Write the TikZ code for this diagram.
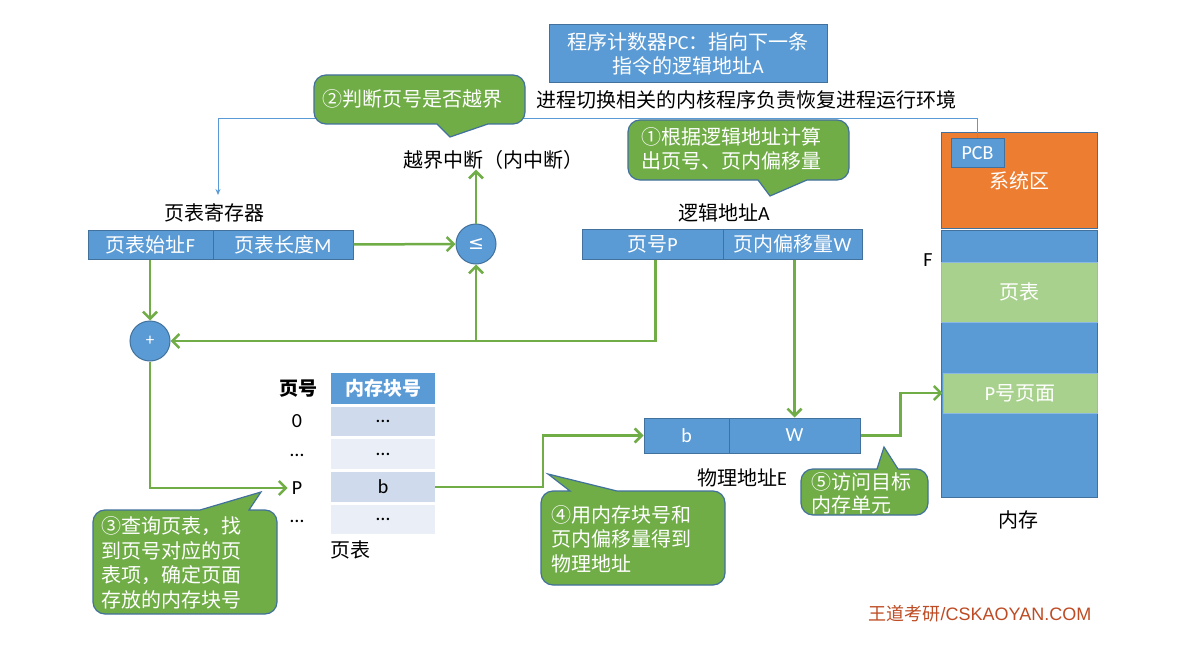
\documentclass[tikz,border=0pt]{standalone}
\usepackage{fontspec}
\setmainfont{Noto Sans CJK SC}
\newfontfamily\lat{Carlito}
\newfontfamily\dvs{DejaVu Sans}
\newfontfamily\ari{Liberation Sans}
\usetikzlibrary{arrows.meta,calc}
\definecolor{pblue}{HTML}{5B9BD5}
\definecolor{pbord}{HTML}{41719C}
\definecolor{pgreen}{HTML}{70AD47}
\definecolor{lgreen}{HTML}{A9D18E}
\definecolor{porange}{HTML}{ED7D31}
\definecolor{rowa}{HTML}{CFDBEC}
\definecolor{rowb}{HTML}{E9EEF7}
\definecolor{wm}{RGB}{190,75,35}
% callout with pointer at bottom: x1 y1 x2 y2 bx1 bx2 tipx tipy
\newcommand\calloutdown[8]{%
  \draw[callout] (#5,#4) -- (#7,#8) -- (#6,#4) -- ({#3-12},#4)
    arc[start angle=90,end angle=0,radius=12] -- (#3,{#2+12})
    arc[start angle=0,end angle=-90,radius=12] -- ({#1+12},#2)
    arc[start angle=270,end angle=180,radius=12] -- (#1,{#4-12})
    arc[start angle=180,end angle=90,radius=12] -- cycle;}
% callout with pointer at top
\newcommand\calloutup[8]{%
  \draw[callout] (#6,#2) -- (#7,#8) -- (#5,#2) -- ({#1+12},#2)
    arc[start angle=270,end angle=180,radius=12] -- (#1,{#4-12})
    arc[start angle=180,end angle=90,radius=12] -- ({#3-12},#4)
    arc[start angle=90,end angle=0,radius=12] -- (#3,{#2+12})
    arc[start angle=0,end angle=-90,radius=12] -- cycle;}
\begin{document}
\begin{tikzpicture}[x=1pt,y=-1pt,
  every node/.style={inner sep=0pt, font=\fontsize{20}{24}\selectfont},
  blk/.style={draw=pbord, fill=pblue, line width=1pt, text=white, minimum height=30pt},
  garrow/.style={draw=pgreen, line width=2.5pt, -{Straight Barb[length=7pt,width=14pt]}},
  gline/.style={draw=pgreen, line width=2.5pt},
  callout/.style={fill=pgreen, draw=pbord, line width=1.2pt},
  ctext/.style={text=white, align=left, font=\fontsize{20}{24.5}\selectfont},
  circ/.style={circle, draw=pbord, fill=pblue, line width=1pt, minimum size=40pt, text=white},
  row/.style={minimum width=104pt, minimum height=29pt},
]
\useasboundingbox[fill=white] (0,0) rectangle (1197,658);

% ---- memory ----
\node[draw=pbord, fill=pblue, line width=1pt, minimum width=156pt, minimum height=267pt] (mem) at (1019,363.5) {};
\node[draw=pbord, fill=porange, line width=1pt, minimum width=156pt, minimum height=95pt, text=white] (sys) at (1019,180.5) {系统区};
\node[draw=pblue!70, fill=lgreen, line width=0.8pt, minimum width=156pt, minimum height=60pt, text=white] (mpt) at (1019,292) {页表};
\node[draw=pblue!70, fill=lgreen, line width=0.8pt, minimum width=154pt, minimum height=40pt, text=white] (ppage) at (1020,393) {{\lat P}号页面};
\node[draw=pbord, fill=pblue, line width=1pt, minimum width=53pt, minimum height=29pt, text=white, font=\lat\fontsize{20}{24}\selectfont] (pcb) at (977.5,153.5) {PCB};
\node[font=\lat\fontsize{20}{24}\selectfont] (flbl) at (928,260) {F};
\node (memlbl) at (1018,520) {内存};

% ---- thin blue line ----
\coordinate (turn) at (218,119);
\coordinate (lend) at (218,195);
\draw[pblue, line width=1pt, -{Stealth[length=6pt,width=5pt]}] (pcb.north) |- (turn) -- (lend);

% ---- PC box and text ----
\node[blk, minimum width=278pt, minimum height=58pt, align=center, font=\fontsize{20}{24}\selectfont] (pc) at (688,54) {程序计数器{\lat PC}：指向下一条\\指令的逻辑地址{\lat A}};
\node (ctx) at (746,100) {进程切换相关的内核程序负责恢复进程运行环境};
\node (yj) at (493,160) {越界中断（内中断）};

% ---- page table register ----
\node (regl) at (214,213) {页表寄存器};
\node[blk, minimum width=125pt, minimum height=29pt] (reg1) at (150.5,244.5) {页表始址{\lat F}};
\node[blk, minimum width=140pt, minimum height=29pt] (reg2) at (283,244.5) {页表长度{\lat M}};

% ---- logical address ----
\node (lal) at (724,213) {逻辑地址{\lat A}};
\node[blk, minimum width=141pt] (la1) at (652.5,244) {页号{\lat P}};
\node[blk, minimum width=139pt] (la2) at (792.5,244) {页内偏移量{\lat W}};

% ---- circles ----
\node[circ, font=\dvs\fontsize{19}{22}\selectfont] (le) at (476,244) {≤};
\node[circ, font=\lat\fontsize{17}{20}\selectfont] (plus) at (150,341) {+};

% ---- page table ----
\node[font=\bfseries\fontsize{19}{22}\selectfont] (hdr1) at (298,389) {页号};
\node[row, fill=pblue, minimum height=31pt, text=white, font=\bfseries\fontsize{19}{22}\selectfont] (hdr2) at (383,388.5) {内存块号};
\node[row, fill=rowa] (r0) at (383,421.5) {\lat …};
\node[row, fill=rowb, minimum height=30pt] (r1) at (383,454) {\lat …};
\node[row, fill=rowa, minimum height=30pt, font=\lat\fontsize{20}{24}\selectfont] (r2) at (383,487) {b};
\node[row, fill=rowb] (r3) at (383,519.5) {\lat …};
\node[font=\lat\fontsize{20}{24}\selectfont] (p0) at (297,421) {0};
\node (p1) at (297,455) {\lat …};
\node[font=\lat\fontsize{20}{24}\selectfont] (pP) at (297,488) {P};
\node (p3) at (297,521) {\lat …};
\node (ptl) at (350,550) {页表};

% ---- physical address ----
\node[blk, minimum width=85pt, minimum height=35pt, font=\lat\fontsize{20}{24}\selectfont] (pa1) at (686.5,435.5) {b};
\node[blk, minimum width=131pt, minimum height=35pt, font=\lat\fontsize{20}{24}\selectfont] (pa2) at (794.5,435.5) {W};
\node (pal) at (742,478) {物理地址{\lat E}};

% ---- green connectors ----
\draw[garrow] (reg2.east) -- (le.west);
\coordinate (jn) at (le.south |- plus.east);
\draw[gline] ([xshift=3pt]la1.south) |- (jn);
\draw[garrow] (jn) -- (plus.east);
\draw[garrow] (jn) -- (le.south);
\draw[garrow] (le.north) -- (le.north |- yj.south);
\draw[garrow] (reg1.south -| plus.north) -- (plus.north);
\draw[garrow] (plus.south) |- ([xshift=-4pt]pP.west);
\draw[garrow] (r2.east) -- ++(108,0) |- (pa1.west);
\draw[garrow] (pa2.north |- la2.south) -- (pa2.north);
\draw[garrow] (pa2.east) -- ++(40,0) |- (ppage.west);

% ---- callouts ----
\calloutdown{314}{75}{525}{124}{437}{488}{450}{137}
\node[ctext] (t2) at (412,99) {②判断页号是否越界};
\calloutdown{628}{120}{849}{180}{758}{807}{770}{196}
\node[ctext] (t1) at (731,149) {①根据逻辑地址计算\\出页号、页内偏移量};
\calloutup{93}{510}{277}{614}{200}{249}{261}{492}
\node[ctext] (t3) at (171,563) {③查询页表，找\\到页号对应的页\\表项，确定页面\\存放的内存块号};
\calloutup{541}{491}{725}{585}{570}{617}{548}{474}
\node[ctext] (t4) at (621,539) {④用内存块号和\\页内偏移量得到\\物理地址};
\calloutup{801}{469}{928}{515}{877}{898}{884}{447}
\node[ctext, font=\fontsize{20}{23}\selectfont] (t5) at (861,493) {⑤访问目标\\内存单元};

% ---- watermark ----
\node[text=wm, font=\fontsize{18}{22}\selectfont] (wmk) at (980,614) {王道考研{\ari /CSKAOYAN.COM}};
\end{tikzpicture}
\end{document}
